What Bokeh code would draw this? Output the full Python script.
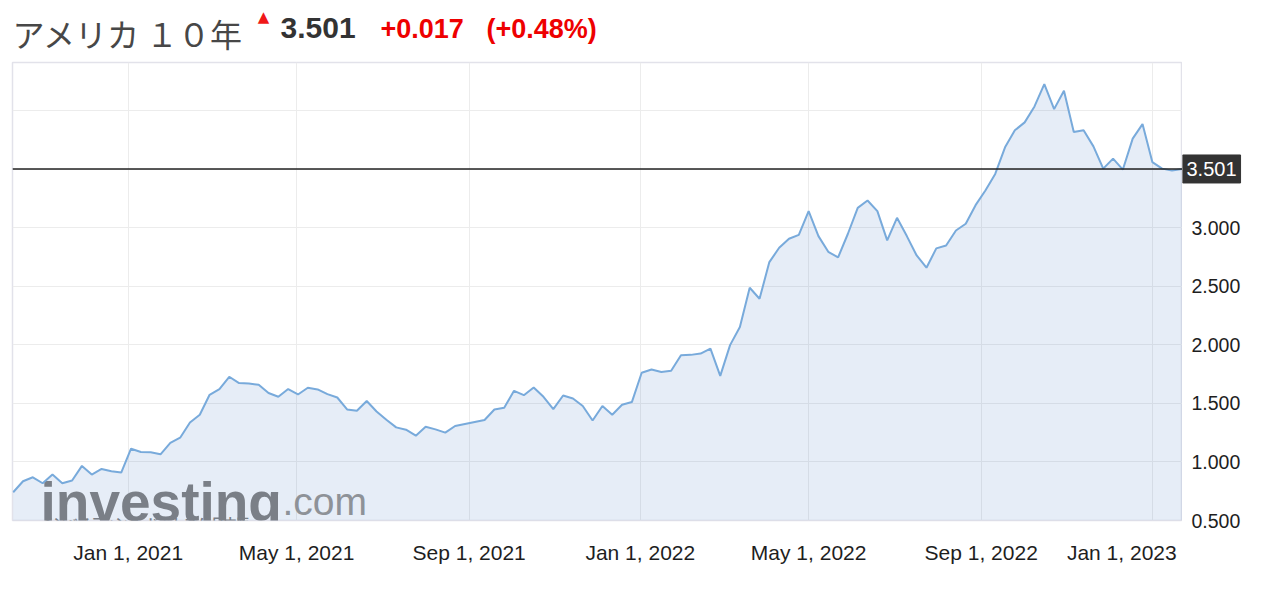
import pandas as pd
from bokeh.plotting import figure
from bokeh.layouts import column, row
from bokeh.models import Range1d, FixedTicker, Span, Label
from bokeh.core.properties import value
from bokeh.embed import file_html
from bokeh.resources import INLINE

# ---------------- data ----------------
start_date = "2020-10-11"   # weekly observations (Sundays)
yields = [
    0.741, 0.835, 0.869, 0.818, 0.892, 0.818, 0.841, 0.966, 0.892, 0.940,
    0.920, 0.909, 1.113, 1.085, 1.082, 1.065, 1.162, 1.207, 1.337, 1.403,
    1.573, 1.622, 1.727, 1.673, 1.670, 1.658, 1.588, 1.556, 1.622, 1.576,
    1.633, 1.619, 1.579, 1.550, 1.448, 1.437, 1.520, 1.431, 1.360, 1.295,
    1.275, 1.224, 1.300, 1.278, 1.250, 1.307, 1.324, 1.341, 1.358, 1.448,
    1.462, 1.607, 1.570, 1.636, 1.556, 1.451, 1.567, 1.542, 1.477, 1.354,
    1.477, 1.403, 1.488, 1.511, 1.761, 1.789, 1.767, 1.778, 1.911, 1.914,
    1.925, 1.968, 1.735, 1.997, 2.152, 2.487, 2.393, 2.706, 2.828, 2.905,
    2.939, 3.141, 2.928, 2.794, 2.746, 2.948, 3.169, 3.232, 3.141, 2.891,
    3.084, 2.928, 2.763, 2.658, 2.823, 2.848, 2.976, 3.033, 3.192, 3.317,
    3.459, 3.686, 3.831, 3.899, 4.035, 4.225, 4.012, 4.169, 3.816, 3.831,
    3.694, 3.504, 3.589, 3.496, 3.760, 3.884, 3.560, 3.504, 3.487, 3.501,
]
dates = pd.date_range(start_date, periods=len(yields), freq="7D")

y_ticks = [0.5, 1.0, 1.5, 2.0, 2.5, 3.0, 3.5, 4.0]
y_hidden_ticks = [3.5, 4.0]
x_tick_dates = ["2021-01-01", "2021-05-01", "2021-09-01", "2022-01-01",
                "2022-05-01", "2022-09-01", "2023-01-01"]
x_tick_labels = ["Jan 1, 2021", "May 1, 2021", "Sep 1, 2021", "Jan 1, 2022",
                 "May 1, 2022", "Sep 1, 2022", "Jan 1, 2023"]

title_name = "アメリカ １０年"
last_price = 3.501
change_text = "+0.017"
change_pct_text = "(+0.48%)"
watermark_main = "investing"
watermark_dom = ".com"
watermark_sub = "インベスティング･ドットコム 日本版"

# ---------------- helpers / layout constants ----------------
def to_ms(ts):
    return int(pd.Timestamp(ts).value // 10**6)

half_day = pd.Timedelta(hours=12)
x_start = dates[0] - half_day
x_end = dates[-1] + half_day
x_start_ms = to_ms(x_start)
y_bottom, y_top = 0.5, 4.41
y_range = Range1d(y_bottom, y_top)

HEAD_H = 56
PAD_TOP, PAD_BOTTOM, FRAME_H = 6, 64, 458
MAIN_H = PAD_TOP + FRAME_H + PAD_BOTTOM
px_per_unit = FRAME_H / (y_top - y_bottom)

AX_FONT = "Liberation Sans"
TXT = "#1e1e1e"
RED = "#ee0000"

# ---------------- header ----------------
head = figure(width=1254, height=HEAD_H, x_range=Range1d(0, 1254), y_range=Range1d(0, HEAD_H),
              output_backend="svg", toolbar_location=None,
              x_axis_location=None, y_axis_location=None,
              min_border_left=0, min_border_right=0, min_border_top=0, min_border_bottom=0)
head.outline_line_color = None
head.xgrid.visible = False
head.ygrid.visible = False

def head_label(x, y_center, text, font, size, color, style="normal", align="left"):
    head.add_layout(Label(x=x, y=HEAD_H - y_center, x_units="screen", y_units="screen",
                          text=text, text_font=font, text_font_size=size,
                          text_font_style=style, text_color=color,
                          text_baseline="middle", text_align=align))

head_label(12, 32, title_name, "Noto Sans CJK JP", "32px", "#474747")
head_label(263, 16, "▲", "DejaVu Sans", "15px", "#f01818", align="center")
head_label(280, 27, f"{last_price:.3f}", AX_FONT, "30px", "#333333", style="bold")
head_label(380, 28, change_text, AX_FONT, "27px", RED, style="bold")
head_label(486, 28, change_pct_text, AX_FONT, "27px", RED, style="bold")

# ---------------- main chart ----------------
p = figure(
    width=1182, height=MAIN_H,
    x_axis_type="datetime", y_axis_location=None,
    x_range=Range1d(x_start, x_end), y_range=y_range,
    output_backend="svg", toolbar_location=None,
    min_border_left=12, min_border_right=0, min_border_top=PAD_TOP, min_border_bottom=PAD_BOTTOM,
    background_fill_color="white", border_fill_color="white",
)
p.outline_line_color = "#e2e2ea"
p.outline_line_width = 1.5

x_tick_ms = [to_ms(d) for d in x_tick_dates]
xt = FixedTicker(ticks=x_tick_ms)
yt = FixedTicker(ticks=y_ticks)
p.xaxis.ticker = xt
p.xgrid.ticker = xt
p.ygrid.ticker = yt
for g in (p.xgrid, p.ygrid):
    g.grid_line_color = "#ececec"
    g.grid_line_width = 1

# the last label is kept inside the chart's right edge
overrides = {ms: lab for ms, lab in zip(x_tick_ms, x_tick_labels)}
overrides[x_tick_ms[-1]] = x_tick_labels[-1] + "\u00a0"
p.xaxis.major_label_overrides = overrides
p.xaxis.axis_line_color = None
p.xaxis.major_tick_line_color = None
p.xaxis.minor_tick_line_color = None
p.xaxis.major_tick_out = 0
p.xaxis.major_label_standoff = 20
p.xaxis.major_label_text_font = AX_FONT
p.xaxis.major_label_text_font_size = "21px"
p.xaxis.major_label_text_color = TXT

p.varea(x=dates, y1=y_bottom, y2=yields, fill_color="#5486c8", fill_alpha=0.146)

p.text(x=[x_start_ms], y=[y_bottom], text=[watermark_main], x_offset=28, y_offset=-19,
       text_font=value("Liberation Sans"), text_font_style="bold", text_font_size="55px",
       text_color="#7a7f87", text_baseline="alphabetic", text_align="left")
p.text(x=[x_start_ms], y=[y_bottom], text=[watermark_dom], x_offset=270, y_offset=-19,
       text_font=value("Liberation Sans"), text_font_size="39px",
       text_color="#8e9298", text_baseline="alphabetic", text_align="left")
p.text(x=[x_start_ms], y=[y_bottom], text=[watermark_sub], x_offset=28, y_offset=-8,
       text_font=value("Noto Sans CJK JP"), text_font_size="12.5px", text_font_style="bold",
       text_color="#7a7f87", text_baseline="top", text_align="left")

p.line(x=dates, y=yields, line_color="#78aadb", line_width=2)

p.add_layout(Span(location=last_price, dimension="width", line_color="#222222", line_width=1.5))

# ---------------- right value scale (same pixel scale as the chart) ----------------
side = figure(width=72, height=MAIN_H, x_range=Range1d(0, 1),
              y_range=Range1d(y_bottom - PAD_BOTTOM / px_per_unit, y_top + PAD_TOP / px_per_unit),
              output_backend="svg", toolbar_location=None,
              x_axis_location=None, y_axis_location=None,
              min_border_left=0, min_border_right=0, min_border_top=0, min_border_bottom=0)
side.outline_line_color = None
side.xgrid.visible = False
side.ygrid.visible = False
for fig in (p, side):
    try:
        fig.frame_align = False
    except AttributeError:
        pass

shown_ticks = [t for t in y_ticks if t not in y_hidden_ticks]
side.text(x=[0] * len(shown_ticks), y=shown_ticks, text=[f"{t:.3f}" for t in shown_ticks],
          x_offset=9, text_font=value(AX_FONT), text_font_size="19.5px", text_color=TXT,
          text_baseline="middle", text_align="left")
side.add_layout(Label(x=0, y=last_price, text=f"{last_price:.3f}", x_offset=0,
                      text_font=AX_FONT, text_font_size="20px", text_color="white",
                      text_align="left", text_baseline="middle",
                      background_fill_color="#333333", border_line_color="#333333",
                      padding=(4, 7)))

layout = column(head, row(p, side, spacing=0), spacing=0)
open("out.html", "w").write(file_html(layout, INLINE))
